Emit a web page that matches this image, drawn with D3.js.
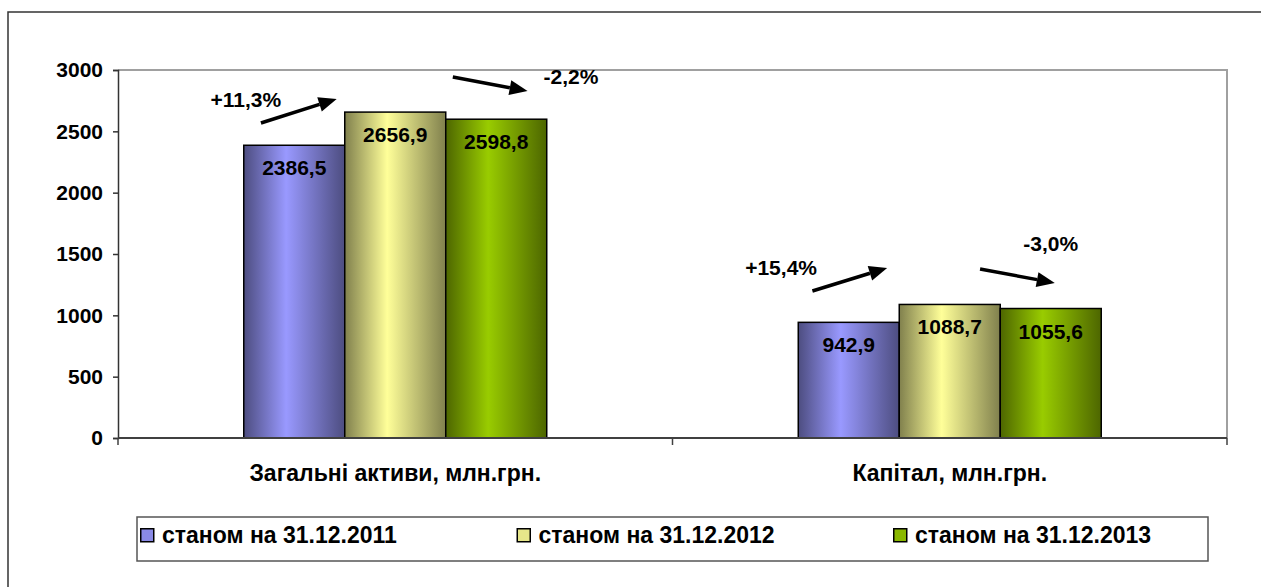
<!DOCTYPE html>
<html>
<head>
<meta charset="utf-8">
<script src="https://cdn.jsdelivr.net/npm/d3@7"></script>
<style>
  html, body { margin: 0; padding: 0; background: #fff; }
  svg { display: block; }
  text { font-family: "Liberation Sans", Arial, sans-serif; font-weight: bold; fill: #000; }
</style>
</head>
<body>
<script>
// ---- data ----
const categories = ["Загальні активи, млн.грн.", "Капітал, млн.грн."];
const seriesNames = ["станом на 31.12.2011", "станом на 31.12.2012", "станом на 31.12.2013"];
const values2011 = [2386.5, 942.9];
const values2012 = [2656.9, 1088.7];
const values2013 = [2598.8, 1055.6];
const yTicks = [0, 500, 1000, 1500, 2000, 2500, 3000];

// change annotations (arrow positions in bar-width units from group start, and in value units)
const changeCategory = [0, 0, 1, 1];
const changeLabels = ["+11,3%", "-2,2%", "+15,4%", "-3,0%"];
const arrowStartPos = [0.17, 2.07, 0.14, 1.80];
const arrowEndPos = [0.92, 2.81, 0.88, 2.54];
const arrowStartVal = [2568, 2943, 1198, 1378];
const arrowEndVal = [2764, 2829, 1386, 1264];
const changeLabelPos = [0.02, 3.24, -0.17, 2.50];
const changeLabelVal = [2698, 2886, 1329, 1524];

const seriesValues = [values2011, values2012, values2013];

const W = 1261, H = 587;
const svg = d3.select("body").append("svg").attr("width", W).attr("height", H);

// gradients
const grads = [
  {id: "g0", dark: "#4d4d80", light: "#9999ff", sw: "#8a8ae6"},
  {id: "g1", dark: "#80804d", light: "#ffff99", sw: "#e6e68a"},
  {id: "g2", dark: "#4d6600", light: "#99cc00", sw: "#8ab800"}
];
const defs = svg.append("defs");
grads.forEach(g => {
  const lg = defs.append("linearGradient").attr("id", g.id).attr("x1", "0").attr("x2", "1").attr("y1", "0").attr("y2", "0");
  lg.append("stop").attr("offset", "0%").attr("stop-color", g.dark);
  lg.append("stop").attr("offset", "42%").attr("stop-color", g.light);
  lg.append("stop").attr("offset", "100%").attr("stop-color", g.dark);
});

// outer chart border
svg.append("rect").attr("x", 8).attr("y", 12).attr("width", 1300).attr("height", 700)
  .attr("fill", "none").attr("stroke", "#333").attr("stroke-width", 1.5);

const plot = {left: 118, right: 1227, top: 70, bottom: 438};

const y = d3.scaleLinear().domain([0, 3000]).range([plot.bottom, plot.top]);
const x0 = d3.scaleBand().domain(d3.range(categories.length)).range([plot.left, plot.right])
  .paddingInner(0.4536).paddingOuter(0.2268);
const x1 = d3.scaleBand().domain(d3.range(seriesNames.length)).range([0, x0.bandwidth()]);
const bw = x1.bandwidth();

// plot area border (top and right gray)
svg.append("path")
  .attr("d", `M${plot.left},${plot.top}H${plot.right}V${plot.bottom}`)
  .attr("fill", "none").attr("stroke", "#a0a0a0").attr("stroke-width", 2);

// y axis
const yAxis = svg.append("g").attr("transform", `translate(${plot.left},0)`)
  .call(d3.axisLeft(y).tickValues(yTicks).tickSize(5).tickPadding(10).tickFormat(d3.format("d")));
yAxis.select(".domain").attr("stroke", "#333").attr("stroke-width", 1.5);
yAxis.selectAll(".tick line").attr("stroke", "#333").attr("stroke-width", 1.5);
yAxis.selectAll(".tick text").style("font-size", "21px").style("font-family", "Liberation Sans, Arial, sans-serif").style("font-weight", "bold").attr("fill", "#000");

// bars
const groups = svg.append("g").selectAll("g").data(categories).join("g")
  .attr("transform", (d, i) => `translate(${x0(i)},0)`);

seriesNames.forEach((s, si) => {
  groups.append("rect")
    .attr("x", (d, ci) => x1(si))
    .attr("y", (d, ci) => y(seriesValues[si][ci]))
    .attr("width", bw)
    .attr("height", (d, ci) => y(0) - y(seriesValues[si][ci]))
    .attr("fill", `url(#g${si})`)
    .attr("stroke", "#000").attr("stroke-width", 1.5);
  groups.append("text")
    .attr("x", (d, ci) => x1(si) + bw / 2)
    .attr("y", (d, ci) => y(seriesValues[si][ci]) + 30)
    .attr("text-anchor", "middle")
    .style("font-size", "21px")
    .text((d, ci) => d3.format(".1f")(seriesValues[si][ci]).replace(".", ","));
});

// x axis (category)
svg.append("line").attr("x1", plot.left).attr("x2", plot.right).attr("y1", plot.bottom).attr("y2", plot.bottom)
  .attr("stroke", "#404040").attr("stroke-width", 2);
const catTicks = [plot.left].concat(categories.map((c, i) => x0(i) + x0.bandwidth() + x0.step() * x0.paddingInner() / 2));
catTicks.forEach(t => {
  svg.append("line").attr("x1", t).attr("x2", t).attr("y1", plot.bottom).attr("y2", plot.bottom + 7)
    .attr("stroke", "#404040").attr("stroke-width", 1.5);
});
svg.append("g").selectAll("text").data(categories).join("text")
  .attr("x", (d, i) => x0(i) + x0.bandwidth() / 2)
  .attr("y", 481)
  .attr("text-anchor", "middle")
  .style("font-size", "23px")
  .text(d => d);

// change arrows and labels
const posX = (ci, t) => x0(ci) + t * bw;
const ann = svg.append("g");
changeLabels.forEach((lab, i) => {
  const ci = changeCategory[i];
  const xa = posX(ci, arrowStartPos[i]), ya = y(arrowStartVal[i]);
  const xb = posX(ci, arrowEndPos[i]), yb = y(arrowEndVal[i]);
  const ang = Math.atan2(yb - ya, xb - xa);
  const L = 18, Wd = 7.5;
  const bxp = xb - L * Math.cos(ang), byp = yb - L * Math.sin(ang);
  ann.append("line").attr("x1", xa).attr("y1", ya).attr("x2", bxp).attr("y2", byp)
    .attr("stroke", "#000").attr("stroke-width", 3.5);
  const p1 = [bxp + Wd * Math.sin(ang), byp - Wd * Math.cos(ang)];
  const p2 = [bxp - Wd * Math.sin(ang), byp + Wd * Math.cos(ang)];
  ann.append("path").attr("d", `M${xb},${yb}L${p1[0]},${p1[1]}L${p2[0]},${p2[1]}Z`).attr("fill", "#000");
  ann.append("text")
    .attr("x", posX(ci, changeLabelPos[i]))
    .attr("y", y(changeLabelVal[i]))
    .attr("text-anchor", "middle")
    .style("font-size", "21px")
    .text(lab);
});

// legend
const leg = svg.append("g");
leg.append("rect").attr("x", 137).attr("y", 517).attr("width", 1071).attr("height", 44)
  .attr("fill", "#fff").attr("stroke", "#555").attr("stroke-width", 1.5);
const legItems = leg.selectAll("g.item").data(seriesNames).join("g").attr("class", "item")
  .attr("transform", (d, i) => `translate(${140 + i * 376.5},528)`);
legItems.append("rect").attr("x", 0.75).attr("y", 0.75).attr("width", 13).attr("height", 13)
  .attr("fill", (d, i) => grads[i].sw).attr("stroke", "#000").attr("stroke-width", 1.5);
legItems.append("text").attr("x", 22).attr("y", 15)
  .style("font-size", "23px")
  .text(d => d);
</script>
</body>
</html>
